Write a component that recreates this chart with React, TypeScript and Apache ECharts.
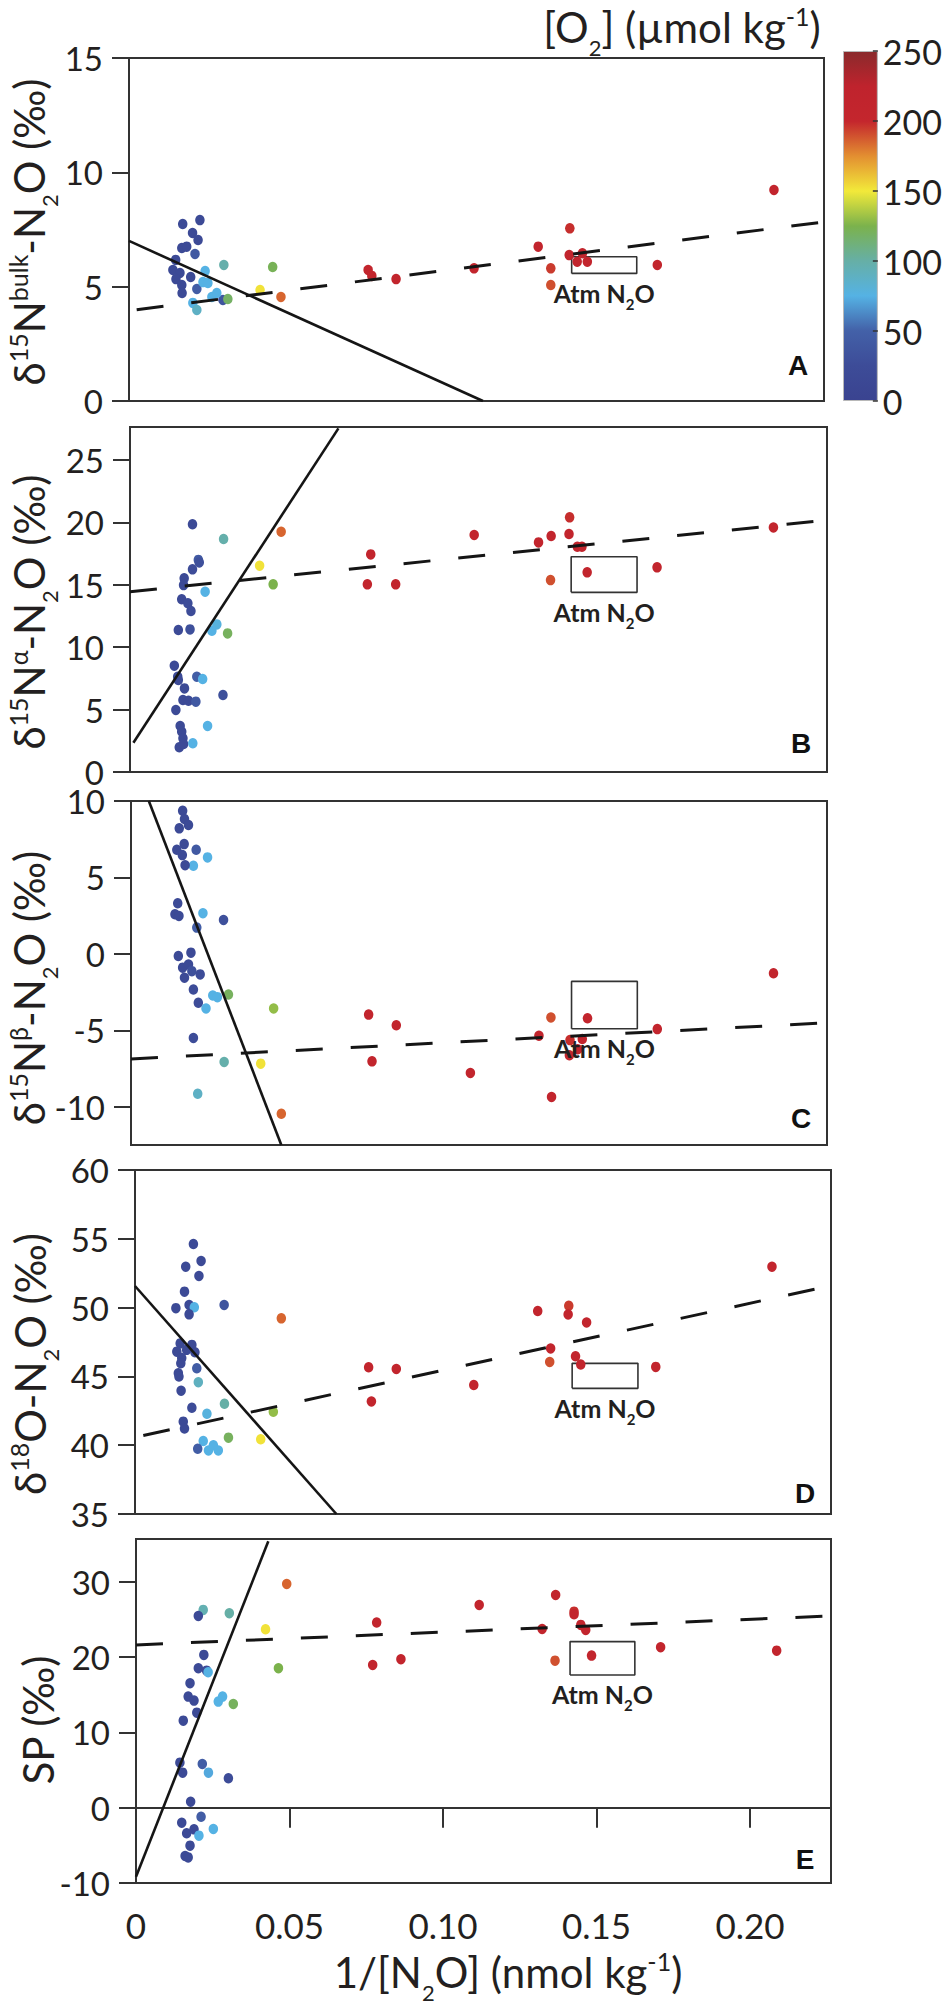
import React, { useEffect, useRef } from "react";
import * as echarts from "echarts";

// ---------- data ----------
const xRange = [0, 0.2264];
const xTicks = [0, 0.05, 0.1, 0.15, 0.2];
const o2Range = [0, 250];
const o2Ticks = [0, 50, 100, 150, 200, 250];

const yRangeA = [0, 15];
const yTicksA = [0, 5, 10, 15];
const yRangeB = [0, 27.65];
const yTicksB = [0, 5, 10, 15, 20, 25];
const yRangeC = [-12.5, 10];
const yTicksC = [-10, -5, 0, 5, 10];
const yRangeD = [35, 60];
const yTicksD = [35, 40, 45, 50, 55, 60];
const yRangeE = [-10, 35.7];
const yTicksE = [-10, 0, 10, 20, 30];

// [1/[N2O], isotope value, O2]
const ptsA = [
  [0.0175, 7.74, 20], [0.0231, 7.91, 20], [0.0207, 7.35, 20], [0.0225, 7.04, 20], [0.0172, 6.69, 20],
  [0.0188, 6.75, 20], [0.0215, 6.43, 40], [0.0152, 6.17, 20], [0.0143, 5.73, 20], [0.0166, 5.6, 20],
  [0.0201, 5.42, 20], [0.0153, 5.33, 20], [0.0172, 5.07, 20], [0.0221, 4.9, 45], [0.0173, 4.72, 20],
  [0.0306, 4.42, 35], [0.0248, 5.68, 75], [0.0241, 5.2, 75], [0.0257, 5.16, 75], [0.027, 4.55, 75],
  [0.0286, 4.72, 75], [0.0208, 4.29, 75], [0.0221, 3.98, 88], [0.0309, 5.95, 98], [0.0468, 5.86, 122],
  [0.0322, 4.46, 118], [0.0427, 4.85, 152], [0.0495, 4.55, 185],
  [0.0779, 5.73, 212], [0.0791, 5.47, 212], [0.087, 5.33, 212], [0.1124, 5.8, 212], [0.1333, 6.75, 212],
  [0.1374, 5.8, 195], [0.1374, 5.07, 190], [0.1436, 7.55, 198], [0.1434, 6.38, 212], [0.1477, 6.46, 212],
  [0.146, 6.09, 212], [0.1493, 6.09, 212], [0.1721, 5.95, 212], [0.2101, 9.23, 212],
];
const ptsB = [
  [0.0203, 19.85, 20], [0.0304, 18.67, 98], [0.0491, 19.26, 185], [0.0222, 17.0, 40], [0.0225, 16.8, 30],
  [0.0203, 16.24, 25], [0.0421, 16.53, 152], [0.0465, 15.04, 125], [0.0176, 15.52, 20], [0.0174, 14.98, 20],
  [0.0244, 14.45, 75], [0.0168, 13.84, 20], [0.0188, 13.52, 25], [0.0198, 12.9, 25], [0.0157, 11.38, 20],
  [0.0195, 11.43, 30], [0.0282, 11.83, 78], [0.0266, 11.32, 75], [0.0317, 11.11, 120], [0.0144, 8.52, 20],
  [0.0155, 7.64, 20], [0.0157, 7.37, 20], [0.0217, 7.64, 45], [0.0236, 7.45, 75], [0.0177, 6.7, 20],
  [0.0302, 6.17, 30], [0.0172, 5.77, 20], [0.019, 5.71, 20], [0.0214, 5.64, 40], [0.0149, 4.97, 20],
  [0.0163, 3.69, 20], [0.0168, 3.23, 20], [0.0252, 3.69, 75], [0.0172, 2.7, 20], [0.016, 1.98, 20],
  [0.0174, 2.24, 20], [0.0204, 2.3, 75],
  [0.0782, 17.44, 212], [0.0771, 15.04, 212], [0.0863, 15.04, 212], [0.1118, 19.0, 212], [0.1327, 18.4, 212],
  [0.1368, 18.91, 212], [0.1366, 15.38, 190], [0.1428, 20.41, 198], [0.1426, 19.07, 212], [0.1453, 18.05, 212],
  [0.1468, 18.05, 212], [0.1485, 16.0, 212], [0.1712, 16.4, 212], [0.209, 19.6, 212],
];
const ptsC = [
  [0.0168, 9.36, 20], [0.0174, 8.82, 20], [0.0187, 8.43, 20], [0.0157, 8.21, 20], [0.0149, 6.81, 20],
  [0.0173, 7.18, 20], [0.0167, 6.46, 20], [0.0212, 6.81, 40], [0.0249, 6.31, 75], [0.0203, 5.76, 75],
  [0.0176, 5.8, 20], [0.0152, 3.31, 20], [0.0143, 2.59, 20], [0.0156, 2.48, 20], [0.0234, 2.66, 75],
  [0.0301, 2.22, 30], [0.0214, 1.72, 45], [0.0154, -0.14, 20], [0.0195, 0.08, 20], [0.0168, -0.9, 20],
  [0.0187, -0.69, 20], [0.0198, -1.13, 30], [0.0174, -1.56, 20], [0.0225, -1.34, 25], [0.0203, -2.33, 25],
  [0.0266, -2.72, 75], [0.0281, -2.83, 75], [0.0317, -2.66, 120], [0.0219, -3.2, 25], [0.0244, -3.57, 75],
  [0.0464, -3.57, 130], [0.0203, -5.5, 25], [0.0303, -7.07, 98], [0.0422, -7.18, 152], [0.0217, -9.15, 88],
  [0.0489, -10.46, 185],
  [0.0773, -3.97, 212], [0.0863, -4.67, 212], [0.0784, -7.03, 212], [0.1104, -7.79, 212], [0.1327, -5.35, 212],
  [0.1368, -9.36, 212], [0.1366, -4.16, 190], [0.1428, -5.64, 198], [0.1426, -6.63, 212], [0.1453, -6.24, 212],
  [0.1468, -5.57, 212], [0.1485, -4.21, 212], [0.1712, -4.92, 212], [0.209, -1.27, 212],
];
const ptsD = [
  [0.019, 54.62, 20], [0.0165, 52.97, 20], [0.0215, 53.39, 20], [0.0208, 52.3, 20], [0.0161, 51.16, 20],
  [0.0133, 49.96, 20], [0.0176, 50.19, 20], [0.0193, 50.02, 75], [0.0176, 49.51, 20], [0.029, 50.19, 35],
  [0.0476, 49.22, 185], [0.0147, 47.4, 20], [0.0185, 47.29, 20], [0.0136, 46.8, 20], [0.0168, 46.93, 20],
  [0.0152, 46.33, 20], [0.0195, 46.75, 20], [0.0149, 45.95, 20], [0.0201, 45.59, 45], [0.0141, 45.23, 20],
  [0.0143, 44.99, 20], [0.0206, 44.58, 90], [0.015, 43.96, 20], [0.0291, 43.01, 100], [0.0185, 42.72, 25],
  [0.0234, 42.28, 78], [0.045, 42.43, 130], [0.0157, 41.71, 20], [0.0161, 41.21, 20], [0.0304, 40.55, 120],
  [0.0409, 40.43, 152], [0.0222, 40.3, 75], [0.0204, 39.74, 45], [0.0239, 39.62, 75], [0.0255, 39.99, 75],
  [0.0271, 39.62, 75],
  [0.076, 45.66, 212], [0.085, 45.54, 212], [0.0769, 43.18, 212], [0.1102, 44.37, 212], [0.131, 49.75, 212],
  [0.1411, 50.13, 195], [0.1409, 49.5, 212], [0.1469, 48.92, 212], [0.1352, 47.03, 212], [0.1349, 46.05, 190],
  [0.1433, 46.46, 212], [0.145, 45.86, 212], [0.1694, 45.69, 212], [0.2072, 52.97, 212],
];
const ptsE = [
  [0.0491, 29.73, 185], [0.0219, 26.28, 95], [0.0203, 25.48, 20], [0.0304, 25.84, 100], [0.0422, 23.71, 152],
  [0.0221, 20.3, 20], [0.0203, 18.53, 20], [0.023, 18.21, 25], [0.0235, 18.0, 75], [0.0464, 18.53, 125],
  [0.0176, 16.54, 20], [0.017, 14.76, 20], [0.0189, 14.23, 20], [0.0198, 12.63, 20], [0.0268, 14.1, 75],
  [0.0282, 14.76, 75], [0.0317, 13.79, 120], [0.0154, 11.57, 20], [0.0143, 5.99, 20], [0.0152, 4.66, 20],
  [0.0216, 5.81, 45], [0.0236, 4.66, 72], [0.0301, 3.91, 25], [0.0178, 0.8, 20], [0.0149, -1.99, 20],
  [0.0212, -1.2, 45], [0.0165, -3.4, 20], [0.0189, -2.87, 20], [0.0205, -3.71, 75], [0.0252, -2.82, 75],
  [0.0176, -5.04, 20], [0.016, -6.41, 20], [0.017, -6.6, 20],
  [0.0784, 24.6, 212], [0.0771, 18.97, 212], [0.0863, 19.73, 212], [0.1118, 26.94, 212], [0.1367, 28.27, 212],
  [0.1427, 26.05, 198], [0.1427, 25.7, 212], [0.1449, 24.29, 212], [0.1465, 23.62, 212], [0.1323, 23.75, 212],
  [0.1365, 19.54, 190], [0.1484, 20.21, 212], [0.1709, 21.32, 212], [0.2087, 20.87, 212],
];

// regression lines: two end points each
const solidA = [[0, 7.0], [0.1153, 0]];
const dashA = [[0.0025, 3.99], [0.2245, 7.8]];
const solidB = [[0.0011, 2.35], [0.0677, 27.54]];
const dashB = [[0, 14.45], [0.2248, 20.14]];
const solidC = [[0.0058, 10.0], [0.0489, -12.5]];
const dashC = [[0, -6.87], [0.2264, -4.51]];
const solidD = [[0, 51.57], [0.0655, 35]];
const dashD = [[0.0027, 40.7], [0.2258, 51.57]];
const solidE = [[0, -9.16], [0.0431, 35.4]];
const dashE = [[0, 21.63], [0.2261, 25.48]];

// atmospheric N2O boxes: [x0, x1, y0, y1]
const atmA = [0.1442, 0.1654, 5.58, 6.31];
const atmB = [0.1433, 0.1647, 14.4, 17.25];
const atmC = [0.1433, 0.1647, -4.9, -1.8];
const atmD = [0.1422, 0.1636, 44.13, 45.95];
const atmE = [0.1414, 0.1625, 17.64, 22.07];

// ---------- styling ----------
const FONT = "Lato, 'Open Sans', 'DejaVu Sans', sans-serif";
const TXT = "#231F20";
const AX = "#333333";
const jet = [
  "#3A4390", "#3D4C98", "#4361A8", "#55B2E4", "#66AFA6", "#7BB24C",
  "#F2E93A", "#E38F31", "#C4262D", "#BF232D", "#8A2A2C",
];

const panels = [
  { pts: ptsA, solid: solidA, dash: dashA, atm: atmA, yr: yRangeA, yt: yTicksA, g: [129, 58, 695, 343], letter: "A", letterY: 365,
    title: "{m|δ}{p|15}{m|N}{p|bulk}{m|-N}{b|2}{m|O (‰)}", tx: 29, ty: 232 },
  { pts: ptsB, solid: solidB, dash: dashB, atm: atmB, yr: yRangeB, yt: yTicksB, g: [130, 427, 697, 345], letter: "B", letterY: 743,
    title: "{m|δ}{p|15}{m|N}{p|α}{m|-N}{b|2}{m|O (‰)}", tx: 29, ty: 612 },
  { pts: ptsC, solid: solidC, dash: dashC, atm: atmC, yr: yRangeC, yt: yTicksC, g: [131, 801, 696, 344], letter: "C", letterY: 1118,
    title: "{m|δ}{p|15}{m|N}{p|β}{m|-N}{b|2}{m|O (‰)}", tx: 29, ty: 988 },
  { pts: ptsD, solid: solidD, dash: dashD, atm: atmD, yr: yRangeD, yt: yTicksD, g: [135, 1170, 696, 344], letter: "D", letterY: 1493,
    title: "{m|δ}{p|18}{m|O-N}{b|2}{m|O (‰)}", tx: 30, ty: 1364 },
  { pts: ptsE, solid: solidE, dash: dashE, atm: atmE, yr: yRangeE, yt: yTicksE, g: [136, 1539, 695, 344], letter: "E", letterY: 1859,
    title: "{m|SP (‰)}", tx: 38, ty: 1720 },
];

// all tokens top-aligned inside a 57px line: main glyph centre sits 2.5px above the block centre
const TITLE_SHIFT = 2.5;
const richTitle = {
  m: { fontSize: 42, fontFamily: FONT, fill: TXT, verticalAlign: "top", padding: [5, 0, 0, 0], lineHeight: 57 },
  p: { fontSize: 25, fontFamily: FONT, fill: TXT, verticalAlign: "top", padding: [2, 0, 0, 0] },
  b: { fontSize: 22, fontFamily: FONT, fill: TXT, verticalAlign: "top", padding: [35, 0, 0, 0] },
};

export default function App() {
  const ref = useRef<HTMLDivElement>(null);
  useEffect(() => {
    if (!ref.current) return;
    const chart = echarts.init(ref.current, null, { renderer: "svg" });

    const grids: any[] = [];
    const xAxes: any[] = [];
    const yAxes: any[] = [];
    const series: any[] = [];
    const scatterIdx: number[] = [];
    const graphics: any[] = [];

    panels.forEach((p, i) => {
      const last = i === panels.length - 1;
      grids.push({
        left: p.g[0], top: p.g[1], width: p.g[2], height: p.g[3],
        show: true, borderColor: AX, borderWidth: 2, backgroundColor: "transparent",
      });
      xAxes.push({
        type: "value", gridIndex: i, min: xRange[0], max: xRange[1],
        axisLine: { show: last, lineStyle: { color: AX, width: 2 } },
        axisTick: { show: last, length: 20, customValues: xTicks, lineStyle: { color: AX, width: 2 } },
        axisLabel: {
          show: last, customValues: xTicks, fontSize: 35, margin: 24, color: TXT, fontFamily: FONT,
          formatter: (v: number) => (v === 0 ? "0" : v.toFixed(2)),
        },
        splitLine: { show: false },
      });
      yAxes.push({
        type: "value", gridIndex: i, min: p.yr[0], max: p.yr[1],
        axisLine: { show: true, lineStyle: { color: AX, width: 2 } },
        axisTick: { show: true, length: 17, customValues: p.yt, lineStyle: { color: AX, width: 2 } },
        axisLabel: {
          customValues: p.yt, fontSize: 33, lineHeight: 26, margin: 26, color: TXT, fontFamily: FONT,
          formatter: (v: number) => String(v),
        },
        splitLine: { show: false },
      });
      const a = p.atm;
      series.push({
        type: "line", xAxisIndex: i, yAxisIndex: i, silent: true, z: 1,
        data: [[a[0], a[2]], [a[1], a[2]], [a[1], a[3]], [a[0], a[3]], [a[0], a[2]]],
        symbol: "none", lineStyle: { color: AX, width: 1.6 },
      });
      scatterIdx.push(series.length);
      series.push({
        type: "scatter", xAxisIndex: i, yAxisIndex: i, data: p.pts, z: 2,
        symbolSize: [9.5, 10.5], itemStyle: { opacity: 1 },
      });
      series.push({
        type: "line", xAxisIndex: i, yAxisIndex: i, data: p.solid, symbol: "none", z: 3, silent: true,
        lineStyle: { color: "#151515", width: 2.6, type: "solid" },
      });
      series.push({
        type: "line", xAxisIndex: i, yAxisIndex: i, data: p.dash, symbol: "none", z: 3, silent: true,
        lineStyle: { color: "#151515", width: 3, type: [27, 28] },
      });
      series.push({
        type: "scatter", xAxisIndex: i, yAxisIndex: i, z: 4, silent: true, symbolSize: 0,
        data: [[(a[0] + a[1]) / 2, a[2]]],
        itemStyle: { color: TXT, opacity: 1 },
        label: {
          show: true, position: "bottom", distance: 1, color: TXT, fontWeight: "bold", fontFamily: FONT,
          formatter: "{m|Atm N}{s|2}{m|O}",
          rich: {
            m: { fontSize: 25, fontWeight: "bold", fontFamily: FONT, color: TXT, lineHeight: 32 },
            s: { fontSize: 15, fontWeight: "bold", fontFamily: FONT, color: TXT, verticalAlign: "top", padding: [22, 0, 0, 0] },
          },
        },
      });
      graphics.push({
        type: "text", x: p.tx + TITLE_SHIFT, y: p.ty, rotation: Math.PI / 2, silent: true,
        style: { text: p.title, rich: richTitle, align: "center", verticalAlign: "middle", fill: TXT },
      });
      graphics.push({
        type: "text", x: p.g[0] + p.g[2] - 26, y: p.letterY, silent: true,
        style: {
          text: p.letter, fontSize: 28, fontWeight: "bold", fontFamily: "'Liberation Sans', Arial, sans-serif",
          fill: "#111", align: "center", verticalAlign: "middle",
        },
      });
    });

    // colour bar
    const cb = panels.length;
    grids.push({ left: 843, top: 51, width: 35, height: 350, show: false });
    xAxes.push({ type: "category", gridIndex: cb, data: ["O2"], show: false });
    yAxes.push({
      type: "value", gridIndex: cb, min: o2Range[0], max: o2Range[1], position: "right", z: 10,
      axisLine: { show: false },
      axisTick: { show: true, inside: true, length: 5, customValues: o2Ticks, lineStyle: { color: AX, width: 1.5 } },
      axisLabel: { customValues: o2Ticks, fontSize: 34, lineHeight: 28, margin: 5, color: TXT, fontFamily: FONT },
      splitLine: { show: false },
    });
    series.push({
      type: "bar", xAxisIndex: cb, yAxisIndex: cb, data: [o2Range[1]], barWidth: "100%", silent: true, z: 1,
      itemStyle: {
        color: new echarts.graphic.LinearGradient(0, 1, 0, 0,
          jet.map((c, k) => ({ offset: k / (jet.length - 1), color: c }))),
        borderColor: "#b8b8b8", borderWidth: 1,
      },
    });

    graphics.push({
      type: "text", x: 508, y: 1972 + TITLE_SHIFT, silent: true,
      style: { text: "{m|1/[N}{b|2}{m|O] (nmol kg}{p|-1}{m|)}", rich: richTitle, align: "center", verticalAlign: "middle", fill: TXT },
    });
    graphics.push({
      type: "text", x: 682, y: 27 + TITLE_SHIFT, silent: true,
      style: { text: "{m|[O}{b|2}{m|] (µmol kg}{p|-1}{m|)}", rich: richTitle, align: "center", verticalAlign: "middle", fill: TXT },
    });

    chart.setOption({
      animation: false,
      backgroundColor: "#ffffff",
      grid: grids,
      xAxis: xAxes,
      yAxis: yAxes,
      visualMap: {
        type: "continuous", show: false, min: o2Range[0], max: o2Range[1], dimension: 2,
        seriesIndex: scatterIdx, inRange: { color: jet },
      },
      series,
      graphic: graphics,
    });
    return () => chart.dispose();
  }, []);
  return <div ref={ref} style={{ position: "absolute", left: 0, top: 0, width: 945, height: 2007 }} />;
}
